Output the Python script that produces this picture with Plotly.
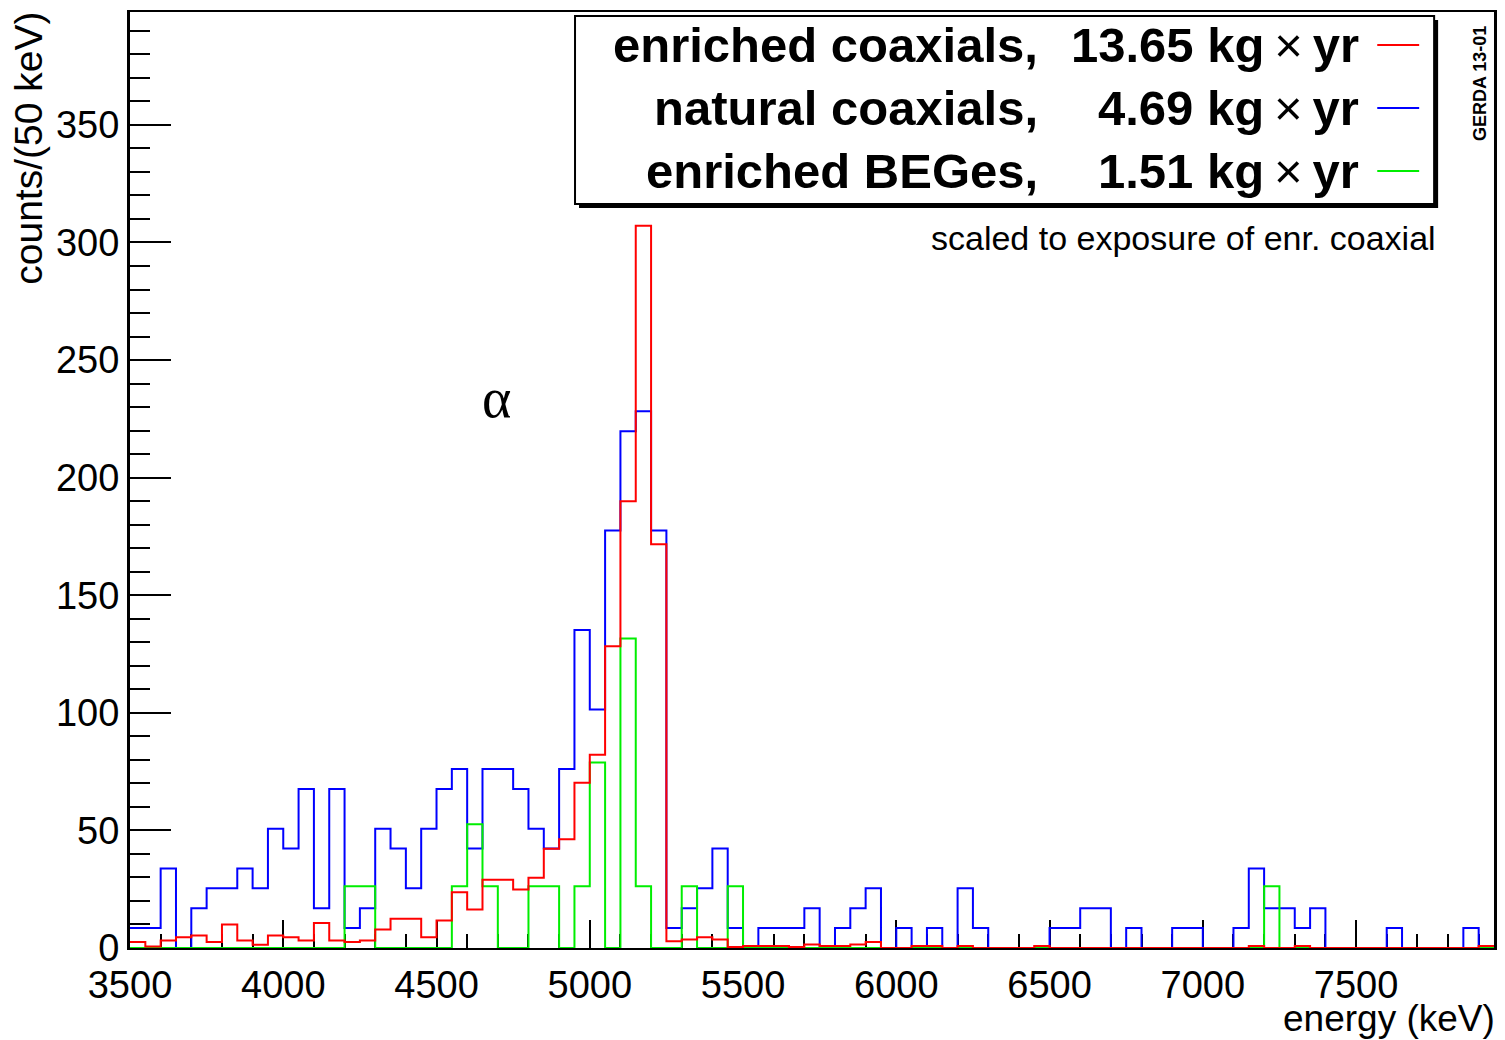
import numpy as np
import plotly.graph_objects as go

# ---------------- data ----------------
E_MIN = 3500          # keV, lower edge of first bin
BIN_WIDTH = 50        # keV

series_names = ["enriched coaxials,", "natural coaxials,", "enriched BEGes,"]
exposures = [13.65, 4.69, 1.51]          # kg x yr
series_colors = ["#ff0000", "#0000ff", "#00ee00"]

enr_coax = [2.5, 0.6, 3.2, 4.6, 5.3, 2.5, 10.0, 3.2, 1.4, 5.3,
            4.6, 3.2, 10.6, 3.2, 2.5, 3.2, 7.9, 12.4, 12.4, 4.6,
            11.7, 23.7, 16.4, 29.0, 29.0, 24.9, 29.9, 42.2, 46.2, 70.3,
            82.2, 128.3, 190.0, 307.1, 171.7, 2.9, 3.6, 4.6, 3.6, 0.4,
            0.8, 0.8, 0.8, 0.4, 1.5, 0.8, 0.8, 1.5, 2.6, 0,
            0, 0.8, 0.8, 0, 0.8, 0, 0, 0, 0, 0.8,
            0, 0, 0, 0, 0, 0, 0, 0, 0, 0,
            0, 0, 0, 0.8, 0, 0, 0.8, 0, 0, 0,
            0, 0, 0, 0, 0, 0, 0, 0, 0.8]

nat_coax = [8.5, 8.5, 33.8, 0, 16.9, 25.4, 25.4, 33.8, 25.4, 50.7,
            42.3, 67.6, 16.9, 67.6, 8.5, 16.9, 50.7, 42.3, 25.4, 50.7,
            67.6, 76.1, 42.3, 76.1, 76.1, 67.6, 50.7, 42.3, 76.1, 135.2,
            101.4, 177.5, 219.7, 228.2, 177.5, 8.5, 16.9, 25.4, 42.3, 8.5,
            0, 8.5, 8.5, 8.5, 16.9, 0, 8.5, 16.9, 25.4, 0,
            8.5, 0, 8.5, 0, 25.4, 8.5, 0, 0, 0, 0,
            8.5, 8.5, 16.9, 16.9, 0, 8.5, 0, 0, 8.5, 8.5,
            0, 0, 8.5, 33.8, 16.9, 16.9, 8.5, 16.9, 0, 0,
            0, 0, 8.5, 0, 0, 0, 0, 8.5, 0]

enr_bege = [0, 0, 0, 0, 0, 0, 0, 0, 0, 0,
            0, 0, 0, 0, 26.3, 26.3, 0, 0, 0, 0,
            0, 26.3, 52.6, 26.3, 0, 0, 26.3, 26.3, 0, 26.3,
            78.9, 0, 131.6, 26.3, 0, 0, 26.3, 0, 0, 26.3,
            0, 0, 0, 0, 0, 0, 0, 0, 0, 0,
            0, 0, 0, 0, 0, 0, 0, 0, 0, 0,
            0, 0, 0, 0, 0, 0, 0, 0, 0, 0,
            0, 0, 0, 0, 26.3, 0, 0, 0, 0, 0,
            0, 0, 0, 0, 0, 0, 0, 0, 0]

x_range = [3500, 7950]
y_range = [0, 398]
x_tick_labels = [3500, 4000, 4500, 5000, 5500, 6000, 6500, 7000, 7500]

# ---------------- figure ----------------
W, H = 1505, 1040
ML, MR, MT, MB = 130, 8, 12, 92
PW, PH = W - ML - MR, H - MT - MB


def px(xp):
    return (xp - ML) / PW


def py(yp):
    return (H - MB - yp) / PH


edges = E_MIN + BIN_WIDTH * np.arange(len(enr_coax) + 1)

fig = go.Figure()
draw_order = [(nat_coax, 1), (enr_bege, 2), (enr_coax, 0)]
for vals, idx in draw_order:
    fig.add_trace(go.Scatter(
        x=edges, y=list(vals) + [vals[-1]],
        mode="lines", line=dict(shape="hv", color=series_colors[idx], width=2),
        name=series_names[idx], showlegend=False, hoverinfo="skip"))

FONT = "Liberation Sans, Arial, Helvetica, sans-serif"

fig.update_layout(
    width=W, height=H,
    margin=dict(l=ML, r=MR, t=MT, b=MB, pad=0),
    paper_bgcolor="white", plot_bgcolor="white",
    showlegend=False,
    font=dict(family=FONT, color="black"),
    xaxis=dict(range=x_range, tickmode="array", tickvals=x_tick_labels,
               ticktext=[str(v) for v in x_tick_labels],
               ticks="inside", ticklen=28, tickwidth=2, tickcolor="black",
               minor=dict(tick0=3500, dtick=100, ticks="inside", ticklen=14,
                          tickwidth=2, tickcolor="black"),
               showline=True, linecolor="black", linewidth=2, mirror=True,
               showgrid=False, zeroline=False, layer="below traces",
               tickfont=dict(family=FONT, size=38, color="black"),
               ticklabelstandoff=2),
    yaxis=dict(range=y_range, tick0=0, dtick=50, tickmode="linear",
               ticks="inside", ticklen=41, tickwidth=2, tickcolor="black",
               minor=dict(dtick=10, ticks="inside", ticklen=20,
                          tickwidth=2, tickcolor="black"),
               showline=True, linecolor="black", linewidth=3, mirror=True,
               showgrid=False, zeroline=False, layer="below traces",
               tickfont=dict(family=FONT, size=38, color="black"),
               ticklabelstandoff=0),
)

annotations = []
# axis titles
annotations.append(dict(xref="paper", yref="paper", x=px(28), y=py(10),
                        text="counts/(50 keV)", textangle=-90, showarrow=False,
                        xanchor="center", yanchor="top",
                        font=dict(family=FONT, size=39, color="black")))
annotations.append(dict(xref="paper", yref="paper", x=px(1499), y=py(1040),
                        text="energy (keV)", showarrow=False,
                        xanchor="right", yanchor="bottom", borderpad=0,
                        font=dict(family=FONT, size=37, color="black")))
# note + alpha + tag
annotations.append(dict(xref="paper", yref="paper", x=px(1441), y=py(238),
                        text="scaled to exposure of enr. coaxial", showarrow=False,
                        xanchor="right", yanchor="middle",
                        font=dict(family=FONT, size=34, color="black")))
annotations.append(dict(xref="paper", yref="paper", x=px(497), y=py(398),
                        text="α", showarrow=False, xanchor="center", yanchor="middle",
                        font=dict(family="Liberation Serif, Times New Roman, serif",
                                  size=56, color="black")))
annotations.append(dict(xref="paper", yref="paper", x=px(1483), y=py(84),
                        text="<b>GERDA 13-01</b>", textangle=-90, showarrow=False,
                        xanchor="center", yanchor="middle",
                        font=dict(family=FONT, size=18, color="black")))

# legend box
shapes = []
bx0, bx1, by0, by1 = 576, 1437, 16, 204
shapes.append(dict(type="rect", xref="paper", yref="paper",
                   x0=px(bx0 + 4), x1=px(bx1 + 4), y0=py(by1 + 4), y1=py(by0 + 4),
                   line=dict(width=0), fillcolor="black", layer="above"))
shapes.append(dict(type="rect", xref="paper", yref="paper",
                   x0=px(bx0), x1=px(bx1), y0=py(by1), y1=py(by0),
                   line=dict(color="black", width=2), fillcolor="white", layer="above"))

row_y = [45, 108, 171]
for i in range(3):
    annotations.append(dict(xref="paper", yref="paper", x=px(1042), y=py(row_y[i]),
                            text="<b>" + series_names[i] + "</b>", showarrow=False,
                            xanchor="right", yanchor="middle",
                            font=dict(family=FONT, size=49, color="black")))
    annotations.append(dict(xref="paper", yref="paper", x=px(1364), y=py(row_y[i]),
                            text="<b>%.2f kg</b>\u2009×\u2009<b>yr</b>" % exposures[i],
                            showarrow=False, xanchor="right", yanchor="middle",
                            font=dict(family=FONT, size=49, color="black")))
    shapes.append(dict(type="line", xref="paper", yref="paper",
                       x0=px(1380), x1=px(1422), y0=py(row_y[i]), y1=py(row_y[i]),
                       line=dict(color=series_colors[i], width=2), layer="above"))

fig.update_layout(annotations=annotations, shapes=shapes)

fig.write_html("out.html", config={"displayModeBar": False})
